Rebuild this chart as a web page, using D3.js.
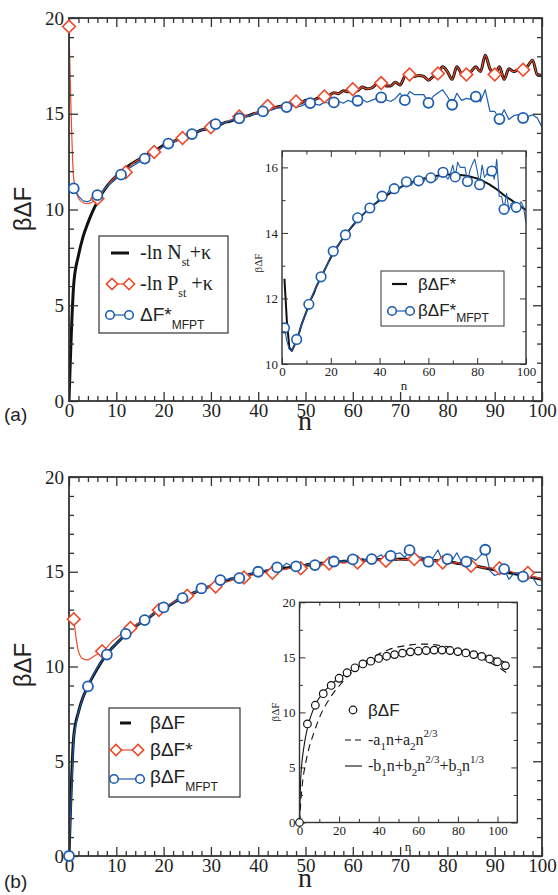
<!DOCTYPE html>
<html>
<head>
<meta charset="utf-8">
<script src="https://cdn.jsdelivr.net/npm/d3@7"></script>
<style>
  body { margin: 0; background: #fff; }
</style>
</head>
<body>
<div id="chart"></div>
<script>
// Free energy of nucleation vs cluster size n, two panels with insets

// ---------- Panel (a) data ----------
// -ln N_st + kappa, n = 0..100
let lnNst = [0, 6.1, 7.6, 8.6, 9.3, 9.9, 10.4, 10.85, 11.2, 11.5, 11.75,
  11.95, 12.15, 12.35, 12.5, 12.65, 12.8, 12.95, 13.1, 13.2, 13.35,
  13.45, 13.55, 13.65, 13.75, 13.85, 13.95, 14.05, 14.15, 14.2, 14.3,
  14.4, 14.45, 14.55, 14.6, 14.7, 14.8, 14.85, 14.9, 15.0, 15.05,
  15.15, 15.3, 15.3, 15.35, 15.4, 15.45, 15.5, 15.6, 15.55, 15.7,
  15.65, 15.75, 15.85, 15.9, 15.95, 16.1, 16.05, 16.2, 16.15, 16.25,
  16.2, 16.4, 16.3, 16.35, 16.55, 16.65, 16.45, 16.45, 16.65, 16.5,
  16.95, 17.05, 16.95, 17.0, 16.95, 16.75, 16.95, 17.1, 17.45, 17.2,
  16.8, 17.45, 17.1, 17.05, 17.2, 17.45, 17.2, 18.05, 17.35, 17.05,
  17.45, 16.8, 17.35, 17.2, 17.3, 17.3, 17.5, 17.8, 17.05, 17.0];

// -ln P_st + kappa, n = 0..100
let lnPst = [19.55, 11.6, 10.6, 10.35, 10.3, 10.4, 10.57, 10.9, 11.2, 11.5, 11.75,
  11.85, 11.94, 12.3, 12.5, 12.65, 12.8, 12.9, 13.0, 13.15, 13.3,
  13.45, 13.55, 13.65, 13.73, 13.85, 13.95, 14.05, 14.15, 14.2, 14.29,
  14.4, 14.45, 14.55, 14.65, 14.75, 14.86, 14.85, 14.9, 15.0, 15.1,
  15.25, 15.4, 15.3, 15.35, 15.4, 15.5, 15.5, 15.64, 15.55, 15.7,
  15.65, 15.75, 15.85, 15.9, 15.95, 16.1, 16.05, 16.2, 16.15, 16.28,
  16.2, 16.4, 16.3, 16.35, 16.55, 16.6, 16.45, 16.45, 16.65, 16.5,
  16.95, 17.05, 16.95, 17.0, 16.95, 16.75, 16.95, 17.1, 17.45, 17.2,
  16.8, 17.45, 17.1, 17.05, 17.2, 17.45, 17.2, 18.05, 17.35, 17.05,
  17.45, 16.8, 17.35, 17.2, 17.3, 17.3, 17.5, 17.8, 17.05, 17.0];

// Delta F*_MFPT, n = 1..100
let mfptA = [11.1, 10.7, 10.45, 10.4, 10.55, 10.75, 10.95, 11.2, 11.4, 11.6,
  11.82, 12.0, 12.2, 12.35, 12.5, 12.66, 12.8, 12.95, 13.1, 13.3,
  13.44, 13.5, 13.62, 13.75, 13.85, 13.94, 14.05, 14.15, 14.25, 14.3,
  14.46, 14.5, 14.55, 14.62, 14.7, 14.76, 14.8, 14.9, 14.95, 15.05,
  15.12, 15.15, 15.2, 15.3, 15.3, 15.35, 15.45, 15.35, 15.4, 15.5,
  15.56, 15.5, 15.45, 15.6, 15.55, 15.59, 15.65, 15.55, 15.7, 15.6,
  15.68, 15.75, 15.6, 15.7, 15.8, 15.85, 15.73, 15.64, 15.8, 16.07,
  15.71, 16.16, 16.0, 16.0, 16.0, 15.57, 15.9, 16.1, 16.25, 15.9,
  15.47, 16.07, 15.7, 15.8, 15.75, 15.89, 15.64, 16.25, 15.12, 15.12,
  14.72, 15.21, 14.7, 14.9, 14.95, 14.78, 14.85, 14.95, 14.78, 14.3];

// Inset (a): beta Delta F*, n = 1..100
let starA = [12.6, 11.3, 10.5, 10.4, 10.55, 10.75, 10.95, 11.2, 11.4, 11.6,
  11.8, 12.0, 12.15, 12.35, 12.5, 12.65, 12.8, 12.95, 13.1, 13.25,
  13.38, 13.5, 13.62, 13.73, 13.84, 13.94, 14.04, 14.13, 14.22, 14.31,
  14.39, 14.47, 14.55, 14.62, 14.69, 14.76, 14.82, 14.88, 14.94, 15.0,
  15.05, 15.1, 15.15, 15.2, 15.25, 15.29, 15.33, 15.37, 15.41, 15.45,
  15.48, 15.51, 15.54, 15.57, 15.6, 15.62, 15.64, 15.66, 15.67, 15.68,
  15.7, 15.72, 15.74, 15.75, 15.76, 15.77, 15.78, 15.78, 15.78, 15.78,
  15.78, 15.77, 15.77, 15.76, 15.75, 15.74, 15.72, 15.7, 15.68, 15.66,
  15.63, 15.6, 15.56, 15.52, 15.48, 15.43, 15.38, 15.33, 15.27, 15.21,
  15.15, 15.1, 15.05, 15.0, 14.95, 14.9, 14.85, 14.8, 14.75, 14.7];

// ---------- Panel (b) data ----------
// beta Delta F, n = 0..100
let betaF = [0, 6.3, 7.6, 8.4, 8.95, 9.45, 9.9, 10.3, 10.65, 10.95, 11.2,
  11.45, 11.7, 11.9, 12.1, 12.3, 12.45, 12.6, 12.8, 12.95, 13.1,
  13.2, 13.35, 13.5, 13.6, 13.7, 13.85, 13.95, 14.05, 14.15, 14.25,
  14.35, 14.45, 14.5, 14.6, 14.65, 14.7, 14.75, 14.85, 14.9, 14.95,
  15.0, 15.05, 15.1, 15.15, 15.2, 15.2, 15.25, 15.3, 15.3, 15.35,
  15.4, 15.4, 15.45, 15.45, 15.5, 15.5, 15.52, 15.55, 15.55, 15.58,
  15.6, 15.6, 15.62, 15.63, 15.65, 15.65, 15.65, 15.66, 15.66, 15.67,
  15.66, 15.66, 15.65, 15.65, 15.63, 15.62, 15.6, 15.58, 15.55, 15.52,
  15.5, 15.45, 15.42, 15.38, 15.35, 15.3, 15.25, 15.2, 15.15, 15.1,
  15.05, 15.0, 14.95, 14.9, 14.85, 14.8, 14.75, 14.7, 14.65, 14.6];

// beta Delta F*, n = 1..100
let betaFStar = [12.5, 10.8, 10.4, 10.35, 10.5, 10.65, 10.8, 11.0, 11.3, 11.5,
  11.7, 11.85, 12.03, 12.2, 12.35, 12.5, 12.65, 12.8, 12.98, 13.1,
  13.25, 13.4, 13.5, 13.6, 13.74, 13.85, 13.95, 14.05, 14.15, 14.2,
  14.22, 14.35, 14.45, 14.5, 14.6, 14.65, 14.7, 14.75, 14.85, 14.9,
  14.95, 14.95, 14.95, 15.05, 15.1, 15.15, 15.2, 15.15, 15.19, 15.25,
  15.3, 15.35, 15.3, 15.4, 15.44, 15.45, 15.5, 15.45, 15.5, 15.55,
  15.49, 15.55, 15.6, 15.55, 15.6, 15.65, 15.58, 15.62, 15.68, 15.62,
  15.65, 15.62, 15.67, 15.6, 15.62, 15.55, 15.6, 15.55, 15.49, 15.52,
  15.45, 15.48, 15.4, 15.35, 15.32, 15.3, 15.25, 15.2, 15.22, 15.12,
  15.19, 15.0, 15.05, 14.95, 14.9, 14.85, 14.93, 14.75, 14.7, 14.6];

// beta Delta F_MFPT, n = 0..100
let mfptB = [0, 6.3, 7.6, 8.4, 8.95, 9.5, 9.95, 10.3, 10.63, 10.95, 11.2,
  11.45, 11.72, 11.9, 12.1, 12.3, 12.45, 12.6, 12.8, 12.95, 13.12,
  13.2, 13.35, 13.5, 13.61, 13.75, 13.85, 14.0, 14.12, 14.2, 14.3,
  14.45, 14.56, 14.6, 14.6, 14.65, 14.66, 14.75, 14.85, 14.95, 15.0,
  15.05, 15.1, 15.2, 15.23, 15.25, 15.45, 15.3, 15.28, 15.3, 15.35,
  15.4, 15.35, 15.4, 15.5, 15.45, 15.54, 15.6, 15.55, 15.6, 15.65,
  15.55, 15.7, 15.6, 15.67, 15.75, 15.9, 15.6, 15.84, 15.95, 16.0,
  15.75, 16.14, 15.9, 15.8, 15.75, 15.53, 15.75, 16.15, 15.55, 15.67,
  15.6, 16.0, 15.5, 15.53, 15.75, 15.6, 15.85, 16.16, 15.05, 14.8,
  14.9, 15.14, 14.6, 14.9, 14.95, 14.74, 15.0, 14.7, 14.3, 14.26];

// Inset (b): beta Delta F sampled every 4, and the two fits
let insetNB = [0, 4, 8, 12, 16, 20, 24, 28, 32, 36, 40, 44, 48, 52,
  56, 60, 64, 68, 72, 76, 80, 84, 88, 92, 96, 100, 104];
let insetBetaF = [0, 8.95, 10.65, 11.7, 12.45, 13.1, 13.6, 14.05, 14.4, 14.65, 14.9, 15.1, 15.25, 15.38,
  15.5, 15.57, 15.62, 15.66, 15.66, 15.62, 15.52, 15.4, 15.25, 15.08, 14.85, 14.6, 14.25];
let fitAN = [0, 1, 2, 3, 5, 7, 10, 15, 20, 25, 30, 35, 40, 45, 50, 55,
  60, 65, 70, 75, 80, 85, 90, 95, 100, 105];
let fitA = [0, 2.7, 4.3, 5.3, 6.9, 8.0, 9.5, 11.2, 12.4, 13.4, 14.2, 14.8, 15.3, 15.7, 15.95, 16.1,
  16.2, 16.2, 16.1, 15.95, 15.7, 15.4, 15.05, 14.65, 14.15, 13.55];
let fitBN = [0, 0.5, 1, 2, 4, 6, 8, 12, 16, 20, 25, 30, 35, 40, 45, 50,
  55, 60, 65, 70, 75, 80, 85, 90, 95, 100, 105];
let fitB = [0, 3.5, 5.0, 6.6, 8.6, 9.8, 10.7, 11.8, 12.55, 13.1, 13.7, 14.15, 14.5, 14.8, 15.05, 15.25,
  15.4, 15.52, 15.6, 15.63, 15.62, 15.55, 15.45, 15.3, 15.1, 14.85, 14.45];

// ---------- Styles ----------
let serif = '"Liberation Serif", "Times New Roman", serif';
let sans = '"Liberation Sans", Arial, sans-serif';
let red = '#ee4a2a';
let blue = '#1d5cae';
let ink = '#222';

// Pair n values with series values
function pts(ns, vals) {
  return ns.map((n, i) => [n, vals[i]]);
}

// Range helpers for the n index of each series
let n0to100 = d3.range(0, 101);
let n1to100 = d3.range(1, 101);

let svg = d3.select('#chart')
  .append('svg')
  .attr('width', 558)
  .attr('height', 895);

let defs = svg.append('defs');
let clipCount = 0;

// Clip a group to the plot rectangle of the given scales
function clipTo(g, x, y) {
  let id = 'clip' + (clipCount++);
  let [x0, x1] = x.range();
  let [y0, y1] = y.range();
  defs.append('clipPath').attr('id', id)
    .append('rect')
    .attr('x', x0).attr('y', y1)
    .attr('width', x1 - x0).attr('height', y0 - y1);
  return g.append('g').attr('clip-path', `url(#${id})`);
}

// Axis with major (labelled) and minor ticks, all pointing inward
function addAxis(g, make, scale, transform, major, minor, cfg, showLabels, pad) {
  let minorAxis = make(scale).tickValues(minor).tickSize(-cfg.minorLen).tickFormat('');
  let mg = g.append('g').attr('transform', transform).call(minorAxis);
  mg.select('.domain').remove();
  mg.selectAll('line').attr('stroke', '#333').attr('stroke-width', cfg.tickWidth);

  let majorAxis = make(scale).tickValues(major)
    .tickSizeInner(-cfg.majorLen).tickSizeOuter(0).tickPadding(pad)
    .tickFormat(showLabels ? d3.format('~g') : '');
  let ag = g.append('g').attr('transform', transform).call(majorAxis);
  ag.select('.domain').remove();
  ag.selectAll('line').attr('stroke', '#333').attr('stroke-width', cfg.tickWidth);
  ag.attr('font-family', null).attr('font-size', null);
  ag.selectAll('text')
    .style('font-family', serif)
    .style('font-size', cfg.font + 'px')
    .attr('fill', ink);
}

// Box frame with ticks on four sides
function drawFrame(g, x, y, cfg) {
  let [x0, x1] = x.range();
  let [y0, y1] = y.range();
  addAxis(g, d3.axisBottom, x, `translate(0,${y0})`, cfg.xMajor, cfg.xMinor, cfg, true, cfg.padX);
  addAxis(g, d3.axisTop, x, `translate(0,${y1})`, cfg.xMajor, cfg.xMinor, cfg, false, cfg.padX);
  addAxis(g, d3.axisLeft, y, `translate(${x0},0)`, cfg.yMajor, cfg.yMinor, cfg, true, cfg.padY);
  addAxis(g, d3.axisRight, y, `translate(${x1},0)`, cfg.yMajor, cfg.yMinor, cfg, false, cfg.padY);
  g.append('rect')
    .attr('x', x0).attr('y', y1)
    .attr('width', x1 - x0).attr('height', y0 - y1)
    .attr('fill', 'none')
    .attr('stroke', '#333')
    .attr('stroke-width', cfg.frameWidth);
}

// Line series (smooth when asked)
function drawLine(g, data, x, y, color, width, dash, smooth) {
  let line = d3.line().x(d => x(d[0])).y(d => y(d[1]));
  if (smooth) line.curve(d3.curveMonotoneX);
  g.append('path')
    .datum(data)
    .attr('d', line)
    .attr('fill', 'none')
    .attr('stroke', color)
    .attr('stroke-width', width)
    .attr('stroke-linejoin', 'round')
    .attr('stroke-dasharray', dash || null);
}

// Open diamond markers (square turned 45 degrees)
function drawDiamonds(g, data, x, y, side, color) {
  g.selectAll(null)
    .data(data)
    .enter()
    .append('path')
    .attr('d', d3.symbol().type(d3.symbolSquare).size(side * side))
    .attr('transform', d => `translate(${x(d[0])},${y(d[1])}) rotate(45)`)
    .attr('fill', '#fff')
    .attr('stroke', color)
    .attr('stroke-width', 1.6);
}

// Open circle markers
function drawCircles(g, data, x, y, r, color, width) {
  g.selectAll(null)
    .data(data)
    .enter()
    .append('circle')
    .attr('cx', d => x(d[0]))
    .attr('cy', d => y(d[1]))
    .attr('r', r)
    .attr('fill', '#fff')
    .attr('stroke', color)
    .attr('stroke-width', width || 1.8);
}

// Text built from parts: {t, f, s, dy}
function richText(g, x, y, parts, anchor) {
  let t = g.append('text')
    .attr('x', x).attr('y', y)
    .attr('fill', ink)
    .attr('text-anchor', anchor || 'start');
  parts.forEach(p => {
    t.append('tspan')
      .style('font-family', p.f || sans)
      .style('font-size', p.s + 'px')
      .attr('dy', p.dy || 0)
      .text(p.t);
  });
  return t;
}

// Single text label
function label(g, x, y, txt, family, size, rotate) {
  let t = g.append('text')
    .attr('text-anchor', 'middle')
    .style('font-family', family)
    .style('font-size', size + 'px')
    .attr('fill', ink)
    .text(txt);
  if (rotate) t.attr('transform', `translate(${x},${y}) rotate(-90)`);
  else t.attr('x', x).attr('y', y);
  return t;
}

// Axis tick settings
let mainCfg = {
  xMajor: d3.range(0, 101, 10), xMinor: d3.range(2, 100, 2).filter(v => v % 10 !== 0),
  yMajor: d3.range(0, 21, 5), yMinor: d3.range(1, 20).filter(v => v % 5 !== 0),
  majorLen: 9, minorLen: 5, tickWidth: 1.3, frameWidth: 1.8, font: 19, padX: 2, padY: 5
};

// ================= Panel (a) =================
let xA = d3.scaleLinear().domain([0, 100]).range([69, 542]);
let yA = d3.scaleLinear().domain([0, 20]).range([401, 18]);

let gA = svg.append('g');
let linesA = clipTo(gA, xA, yA);
drawLine(linesA, pts(n0to100, lnNst), xA, yA, '#111', 3, null, true);
drawLine(linesA, pts(n0to100, lnPst), xA, yA, red, 1.2, null, true);
drawLine(linesA, pts(n1to100, mfptA), xA, yA, blue, 1.2);
drawFrame(gA, xA, yA, mainCfg);
drawDiamonds(gA, pts(n0to100, lnPst).filter(d => d[0] % 6 === 0), xA, yA, 9, red);
drawCircles(gA, pts(n1to100, mfptA).filter(d => (d[0] - 1) % 5 === 0), xA, yA, 5, blue);

// Axis titles and panel tag
label(svg, 31, 209, 'βΔF', sans, 24, true);
label(svg, 305, 430, 'n', serif, 28);
svg.append('text')
  .attr('x', 4).attr('y', 421)
  .style('font-family', sans).style('font-size', '19px').attr('fill', ink)
  .text('(a)');

// Legend (a)
let legA = svg.append('g');
legA.append('rect')
  .attr('x', 99).attr('y', 236).attr('width', 129).attr('height', 97)
  .attr('fill', '#fff').attr('stroke', '#333').attr('stroke-width', 1.2);
legA.append('line').attr('x1', 111).attr('x2', 129).attr('y1', 253).attr('y2', 253)
  .attr('stroke', '#111').attr('stroke-width', 3);
richText(legA, 140, 259, [
  {t: '-ln N', f: serif, s: 20},
  {t: 'st', f: serif, s: 12, dy: 7},
  {t: '+κ', f: serif, s: 20, dy: -7}
]);
legA.append('line').attr('x1', 112).attr('x2', 129).attr('y1', 284).attr('y2', 284)
  .attr('stroke', red).attr('stroke-width', 1.2);
drawDiamonds(legA, [[112, 284], [129, 284]], d => d, d => d, 8, red);
richText(legA, 140, 290, [
  {t: '-ln P', f: serif, s: 20},
  {t: 'st', f: serif, s: 12, dy: 7},
  {t: '\u00a0+κ', f: serif, s: 20, dy: -7}
]);
legA.append('line').attr('x1', 110).attr('x2', 129).attr('y1', 315).attr('y2', 315)
  .attr('stroke', blue).attr('stroke-width', 1.2);
drawCircles(legA, [[110, 315], [129, 315]], d => d, d => d, 4.3, blue, 1.6);
richText(legA, 140, 321, [
  {t: 'ΔF*', f: sans, s: 19},
  {t: 'MFPT', f: sans, s: 12, dy: 8}
]);

// ---------- Inset (a) ----------
let xIA = d3.scaleLinear().domain([0, 100]).range([282, 526]);
let yIA = d3.scaleLinear().domain([10, 16.5]).range([364, 151]);
let insetCfgA = {
  xMajor: d3.range(0, 101, 20), xMinor: d3.range(10, 100, 20),
  yMajor: [10, 12, 14, 16], yMinor: [11, 13, 15],
  majorLen: 6, minorLen: 3.5, tickWidth: 1, frameWidth: 1.4, font: 13, padX: 3, padY: 4
};
let gIA = svg.append('g');
gIA.append('rect')
  .attr('x', 282).attr('y', 151).attr('width', 244).attr('height', 213)
  .attr('fill', '#fff');
let linesIA = clipTo(gIA, xIA, yIA);
drawLine(linesIA, pts(n1to100, starA), xIA, yIA, '#111', 2);
drawLine(linesIA, pts(n1to100, mfptA), xIA, yIA, blue, 1.1);
drawCircles(linesIA, pts(n1to100, mfptA).filter(d => (d[0] - 1) % 5 === 0), xIA, yIA, 4.8, blue, 1.6);
drawFrame(gIA, xIA, yIA, insetCfgA);
label(gIA, 262, 263, 'βΔF', serif, 11, true);
label(gIA, 404, 390, 'n', serif, 13);

// Legend in inset (a)
let legIA = svg.append('g');
legIA.append('rect')
  .attr('x', 381).attr('y', 271).attr('width', 123).attr('height', 55)
  .attr('fill', '#fff').attr('stroke', '#333').attr('stroke-width', 1);
legIA.append('line').attr('x1', 392).attr('x2', 407).attr('y1', 284).attr('y2', 284)
  .attr('stroke', '#111').attr('stroke-width', 2.2);
richText(legIA, 418, 290, [{t: 'βΔF*', f: sans, s: 17}]);
legIA.append('line').attr('x1', 392).attr('x2', 410).attr('y1', 311).attr('y2', 311)
  .attr('stroke', blue).attr('stroke-width', 1.2);
drawCircles(legIA, [[392, 311], [410, 311]], d => d, d => d, 4.3, blue, 1.6);
richText(legIA, 418, 316, [
  {t: 'βΔF*', f: sans, s: 17},
  {t: 'MFPT', f: sans, s: 12, dy: 6}
]);

// ================= Panel (b) =================
let xB = d3.scaleLinear().domain([0, 100]).range([69, 542]);
let yB = d3.scaleLinear().domain([0, 20]).range([856, 477]);

let gB = svg.append('g');
let linesB = clipTo(gB, xB, yB);
drawLine(linesB, pts(n0to100, betaF), xB, yB, '#111', 3, null, true);
drawLine(linesB, pts(n1to100, betaFStar), xB, yB, red, 1.2, null, true);
drawLine(linesB, pts(n0to100, mfptB), xB, yB, blue, 1.2);
drawFrame(gB, xB, yB, mainCfg);
drawDiamonds(gB, pts(n1to100, betaFStar).filter(d => (d[0] - 1) % 6 === 0), xB, yB, 9, red);
drawCircles(gB, pts(n0to100, mfptB).filter(d => d[0] % 4 === 0 && d[0] <= 96), xB, yB, 5, blue);

label(svg, 31, 665, 'βΔF', sans, 24, true);
label(svg, 305, 887, 'n', serif, 28);
svg.append('text')
  .attr('x', 4).attr('y', 888)
  .style('font-family', sans).style('font-size', '19px').attr('fill', ink)
  .text('(b)');

// Legend (b)
let legB = svg.append('g');
legB.append('rect')
  .attr('x', 109).attr('y', 708).attr('width', 131).attr('height', 89)
  .attr('fill', '#fff').attr('stroke', '#333').attr('stroke-width', 1.2);
legB.append('line').attr('x1', 120).attr('x2', 131).attr('y1', 723).attr('y2', 723)
  .attr('stroke', '#111').attr('stroke-width', 3);
richText(legB, 150, 729, [{t: 'βΔF', f: sans, s: 19}]);
legB.append('line').attr('x1', 116).attr('x2', 138).attr('y1', 750).attr('y2', 750)
  .attr('stroke', red).attr('stroke-width', 1.2);
drawDiamonds(legB, [[116, 750], [138, 750]], d => d, d => d, 8, red);
richText(legB, 150, 756, [{t: 'βΔF*', f: sans, s: 19}]);
legB.append('line').attr('x1', 114).attr('x2', 140).attr('y1', 779).attr('y2', 779)
  .attr('stroke', blue).attr('stroke-width', 1.2);
drawCircles(legB, [[114, 779], [140, 779]], d => d, d => d, 4.3, blue, 1.6);
richText(legB, 150, 783, [
  {t: 'βΔF', f: sans, s: 19},
  {t: 'MFPT', f: sans, s: 12, dy: 8}
]);

// ---------- Inset (b) ----------
let xIB = d3.scaleLinear().domain([0, 110]).range([299.5, 517.3]);
let yIB = d3.scaleLinear().domain([0, 20]).range([822.5, 602.3]);
let insetCfgB = {
  xMajor: d3.range(0, 101, 20), xMinor: d3.range(10, 110, 20),
  yMajor: d3.range(0, 21, 5), yMinor: [2.5, 7.5, 12.5, 17.5],
  majorLen: 6, minorLen: 3.5, tickWidth: 1, frameWidth: 1.4, font: 13, padX: 3, padY: 4
};
let gIB = svg.append('g');
gIB.append('rect')
  .attr('x', 299.5).attr('y', 602.3).attr('width', 217.8).attr('height', 220.2)
  .attr('fill', '#fff');
let linesIB = clipTo(gIB, xIB, yIB);
drawLine(linesIB, pts(fitAN, fitA), xIB, yIB, '#111', 1.1, '7,5', true);
drawLine(linesIB, pts(fitBN, fitB), xIB, yIB, '#111', 1.1, null, true);
drawFrame(gIB, xIB, yIB, insetCfgB);
drawCircles(gIB, pts(insetNB, insetBetaF), xIB, yIB, 3.8, '#111', 1.2);
label(gIB, 279, 712, 'βΔF', serif, 11, true);
label(gIB, 408, 851, 'n', serif, 13);

// Legend in inset (b), no box
let legIB = svg.append('g');
drawCircles(legIB, [[353, 710]], d => d, d => d, 3.8, '#111', 1.2);
richText(legIB, 368, 716, [{t: 'βΔF', f: sans, s: 17}]);
legIB.append('line').attr('x1', 345).attr('x2', 361).attr('y1', 740).attr('y2', 740)
  .attr('stroke', '#111').attr('stroke-width', 1.1).attr('stroke-dasharray', '6,4');
richText(legIB, 368, 745, [
  {t: '-a', f: serif, s: 16},
  {t: '1', f: serif, s: 11, dy: 5},
  {t: 'n+a', f: serif, s: 16, dy: -5},
  {t: '2', f: serif, s: 11, dy: 5},
  {t: 'n', f: serif, s: 16, dy: -5},
  {t: '2/3', f: serif, s: 11, dy: -8}
]);
legIB.append('line').attr('x1', 345).attr('x2', 362).attr('y1', 766).attr('y2', 766)
  .attr('stroke', '#111').attr('stroke-width', 1.1);
richText(legIB, 368, 771, [
  {t: '-b', f: serif, s: 16},
  {t: '1', f: serif, s: 11, dy: 5},
  {t: 'n+b', f: serif, s: 16, dy: -5},
  {t: '2', f: serif, s: 11, dy: 5},
  {t: 'n', f: serif, s: 16, dy: -5},
  {t: '2/3', f: serif, s: 11, dy: -8},
  {t: '+b', f: serif, s: 16, dy: 8},
  {t: '3', f: serif, s: 11, dy: 5},
  {t: 'n', f: serif, s: 16, dy: -5},
  {t: '1/3', f: serif, s: 11, dy: -8}
]);
</script>
</body>
</html>
